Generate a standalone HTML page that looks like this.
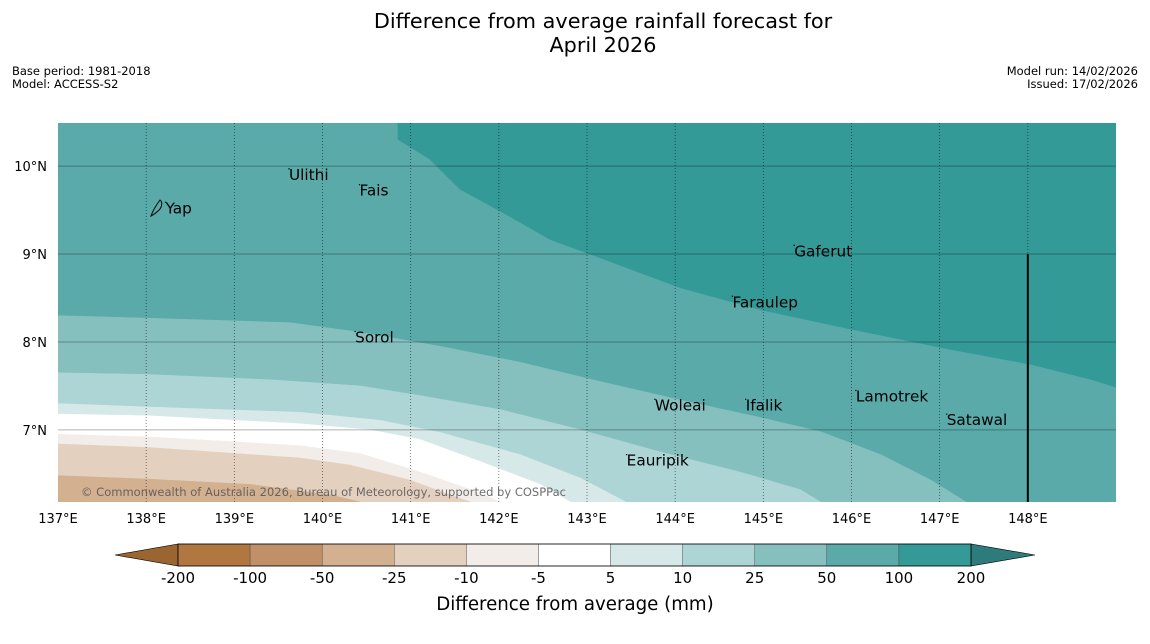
<!DOCTYPE html>
<html><head><meta charset="utf-8">
<style>
body{margin:0;background:#fff;font-family:"DejaVu Sans","Liberation Sans",sans-serif;}
#wrap{position:relative;width:1150px;height:644px;overflow:hidden;}
</style></head>
<body>
<div id="wrap">
<svg id="fig" width="1150" height="644" xmlns="http://www.w3.org/2000/svg" font-family="DejaVu Sans, Liberation Sans, sans-serif">
<text x="603" y="28" font-size="20.8" text-anchor="middle">Difference from average rainfall forecast for</text>
<text x="603" y="52" font-size="20.8" text-anchor="middle">April 2026</text>
<text x="12" y="75" font-size="11.5">Base period: 1981-2018</text>
<text x="12" y="88" font-size="11.5">Model: ACCESS-S2</text>
<text x="1138" y="75" font-size="11.5" text-anchor="end">Model run: 14/02/2026</text>
<text x="1138" y="88" font-size="11.5" text-anchor="end">Issued: 17/02/2026</text>
<g id="map"></g>
<g id="cbar"></g>
<text x="575" y="610" font-size="18.2" text-anchor="middle">Difference from average (mm)</text>
</svg>
</div>
<script>
const NS="http://www.w3.org/2000/svg";
const lonMin=137, lonMax=149, latMin=6.18, latMax=10.49;
const X0=58, X1=1116, Y0=123, Y1=502;
const bandColors=["#5aaaaa","#85c0bf","#aed5d5","#d6e9e8","#ffffff","#f2ede8","#e4d0bf","#d3b090"];
const topColor="#339a98";
const b100Lon=[140.85,140.85,141.22,141.56,142.02,142.58,143.15,144.06,144.97,145.99,147.12,148.03,148.71,149.0];
const b100Lat=[10.49,10.30,10.07,9.73,9.48,9.16,8.95,8.61,8.36,8.14,7.91,7.74,7.57,7.48];
const b50Lon=[137,138.04,139.63,140.43,141.34,142.24,143.15,144.06,144.97,145.65,146.33,146.90,147.30];
const b50Lat=[8.30,8.27,8.22,8.11,7.95,7.77,7.55,7.34,7.14,6.98,6.72,6.43,6.18];
const b25Lon=[137,138.04,139.41,140.43,141.11,142.02,142.93,143.83,144.74,145.42,145.65];
const b25Lat=[7.65,7.63,7.57,7.50,7.39,7.23,7.00,6.75,6.52,6.32,6.18];
const b10Lon=[137,138.04,139.75,140.65,141.34,142.24,142.93,143.44];
const b10Lat=[7.30,7.26,7.20,7.11,6.97,6.72,6.45,6.18];
const b5Lon=[137,138.04,139.75,140.54,141.11,141.79,142.47,142.81];
const b5Lat=[7.18,7.16,7.07,7.00,6.89,6.64,6.38,6.18];
const bm5Lon=[137,138.04,139.75,140.43,141.11,141.68,142.02];
const bm5Lat=[6.95,6.92,6.82,6.73,6.52,6.32,6.18];
const bm10Lon=[137,138.04,139.75,140.31,140.99,141.45,141.68];
const bm10Lat=[6.84,6.80,6.68,6.60,6.43,6.26,6.18];
const bm25Lon=[137,138.04,139.18,140.09,140.43];
const bm25Lat=[6.48,6.44,6.38,6.26,6.18];
const boundaries=[[b100Lon,b100Lat],[b50Lon,b50Lat],[b25Lon,b25Lat],[b10Lon,b10Lat],[b5Lon,b5Lat],[bm5Lon,bm5Lat],[bm10Lon,bm10Lat],[bm25Lon,bm25Lat]];
const lonTicks=[137,138,139,140,141,142,143,144,145,146,147,148];
const latTicks=[7,8,9,10];
const places=["Yap","Ulithi","Fais","Gaferut","Faraulep","Sorol","Woleai","Ifalik","Lamotrek","Satawal","Eauripik"];
const placeLon=[138.22,139.62,140.42,145.35,144.65,140.37,143.77,144.8,146.05,147.08,143.45];
const placeLat=[9.52,9.9,9.72,9.03,8.45,8.05,7.28,7.28,7.38,7.11,6.65];
const cbLabels=["-200","-100","-50","-25","-10","-5","5","10","25","50","100","200"];
const cbColors=["#b07840","#c09068","#d3b090","#e4d0bf","#f2ede8","#ffffff","#d6e9e8","#aed5d5","#85c0bf","#5aaaaa","#339a98"];

const xs=lon=>X0+(lon-lonMin)/(lonMax-lonMin)*(X1-X0);
const ys=lat=>Y0+(latMax-lat)/(latMax-latMin)*(Y1-Y0);
function mk(tag,attrs,parent){const e=document.createElementNS(NS,tag);for(const k in attrs)e.setAttribute(k,attrs[k]);parent.appendChild(e);return e;}
const map=document.getElementById('map');
mk('defs',{},map).innerHTML='<clipPath id="mc"><rect x="'+X0+'" y="'+Y0+'" width="'+(X1-X0)+'" height="'+(Y1-Y0)+'"/></clipPath>';
const g=mk('g',{'clip-path':'url(#mc)'},map);
const bg=mk('rect',{x:X0,y:Y0,width:X1-X0,height:Y1-Y0,fill:topColor},g);


const bandNames=['band-50-100','band-25-50','band-10-25','band-5-10','band-neutral','band-minus5-minus10','band-minus10-minus25','band-minus25-minus50'];
boundaries.forEach((b,i)=>{
  const [lo,la]=b;
  let pts=lo.map((v,j)=>[xs(v),ys(la[j])]);
  if(lo[lo.length-1]>=lonMax-0.05) pts.push([xs(lonMax),ys(latMin)]);
  pts.push([xs(lonMin),ys(latMin)]);
  if(lo[0]>lonMin) pts.push([xs(lonMin),ys(latMax)]);
  const p=mk('polygon',{points:pts.map(q=>q.join(',')).join(' '),fill:bandColors[i],stroke:bandColors[i],'stroke-width':0.5},g);
  
  
});
lonTicks.forEach(l=>{
  if(l>lonMin){const ln=mk('line',{x1:xs(l),x2:xs(l),y1:Y0,y2:Y1,stroke:'#000','stroke-opacity':0.6,'stroke-width':0.8,'stroke-dasharray':'1,2'},g);
  
  }
  const t=mk('text',{x:xs(l),y:523,'font-size':13,'text-anchor':'middle'},map);t.textContent=l+'°E';
  
  
});
latTicks.forEach(l=>{
  const ln=mk('line',{x1:X0,x2:X1,y1:ys(l),y2:ys(l),stroke:'#000','stroke-opacity':0.3,'stroke-width':1},g);
  
  
  const t=mk('text',{x:47,y:ys(l)+5,'font-size':13,'text-anchor':'end'},map);t.textContent=l+'°N';
  
  
});
const bl=mk('line',{x1:xs(148),x2:xs(148),y1:ys(9),y2:Y1,stroke:'#000','stroke-width':2},g);


const isl=mk('path',{d:'M151,216 C153,210 157,204 160,200 C163,202 162,208 158,211 C156,213 153,215 151,216 Z',fill:'none',stroke:'#000','stroke-width':1},g);


const cp=mk('text',{x:81,y:496,'font-size':11.5,fill:'#555','fill-opacity':0.85,textLength:485},g);
cp.textContent='© Commonwealth of Australia 2026, Bureau of Meteorology, supported by COSPPac';


places.forEach((n,i)=>{
  const x=xs(placeLon[i]),y=ys(placeLat[i]);
  mk('circle',{cx:x,cy:y-6,r:0.7,fill:'#000'},g);
  const t=mk('text',{x:x,y:y+5,'font-size':15.3},g);t.textContent=n;
  
  
});
const cb=document.getElementById('cbar');
const cx0=178,cx1=971,cy0=544,cy1=566,w=(cx1-cx0)/cbColors.length;
const lt=mk('polygon',{points:`${cx0},${cy0} ${cx0},${cy1} 115,555`,fill:'#9a6530',stroke:'#000','stroke-width':0.6},cb);


const rt=mk('polygon',{points:`${cx1},${cy0} ${cx1},${cy1} 1035,555`,fill:'#2e7b7b',stroke:'#000','stroke-width':0.6},cb);


cbColors.forEach((c,i)=>{
  const r=mk('rect',{x:cx0+i*w,y:cy0,width:w,height:cy1-cy0,fill:c,stroke:'#444','stroke-width':0.4},cb);
  
  
});
mk('rect',{x:cx0,y:cy0,width:cx1-cx0,height:cy1-cy0,fill:'none',stroke:'#000','stroke-width':0.8},cb);
cbLabels.forEach((l,i)=>{
  const t=mk('text',{x:cx0+i*w,y:583,'font-size':15,'text-anchor':'middle'},cb);t.textContent=l;
  
  
});
</script>
</body></html>
